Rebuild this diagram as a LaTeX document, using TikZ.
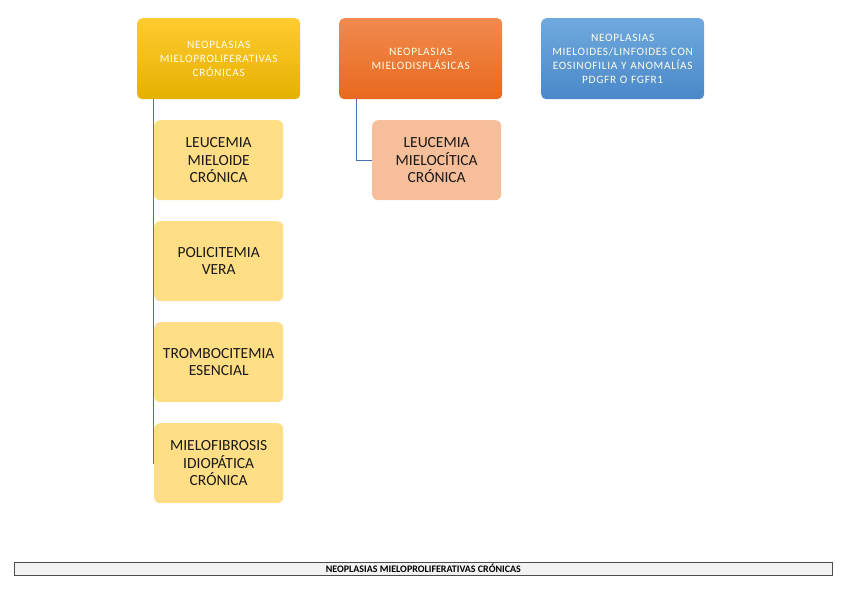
\documentclass[tikz,border=0pt]{standalone}
\usepackage{fontspec}
\setmainfont{Carlito}
\usetikzlibrary{backgrounds,calc}
\definecolor{ytop}{HTML}{FFCB30}
\definecolor{ybot}{HTML}{E5B100}
\definecolor{otop}{HTML}{F18A4E}
\definecolor{obot}{HTML}{E8691E}
\definecolor{btop}{HTML}{6FA9DD}
\definecolor{bbot}{HTML}{4A88C9}
\definecolor{ylight}{HTML}{FFDE85}
\definecolor{olight}{HTML}{F7BE9A}
\definecolor{linkblue}{HTML}{4A6FB5}
\tikzset{
  topbox/.style={rounded corners=5pt, minimum width=163pt, minimum height=81pt, text width=161pt, align=center, text=white!92!yellow, font=\fontsize{11.3}{14}\selectfont\addfontfeatures{LetterSpace=6}, anchor=north west, inner sep=0pt},
  childbox/.style={rounded corners=6pt, minimum width=129pt, minimum height=80pt, text width=127pt, align=center, text=black!90, font=\fontsize{15.5}{17.5}\selectfont, anchor=north west, inner sep=0pt},
  link/.style={draw=linkblue, line width=0.9pt},
}
\begin{document}
\begin{tikzpicture}[x=1pt,y=-1pt]
\useasboundingbox (0,0) rectangle (848,599);
\node[topbox, top color=ytop, bottom color=ybot] (t1) at (137,18) {NEOPLASIAS\\MIELOPROLIFERATIVAS\\CRÓNICAS};
\node[topbox, top color=otop, bottom color=obot] (t2) at (339,18) {NEOPLASIAS\\MIELODISPLÁSICAS};
\node[topbox, top color=btop, bottom color=bbot] (t3) at (541,18) {NEOPLASIAS\\MIELOIDES/LINFOIDES CON\\EOSINOFILIA Y ANOMALÍAS\\PDGFR O FGFR1};
\node[childbox, fill=ylight] (c1) at (154,120) {LEUCEMIA\\MIELOIDE\\CRÓNICA};
\node[childbox, fill=ylight] (c2) at (154,221) {POLICITEMIA\\VERA};
\node[childbox, fill=ylight] (c3) at (154,322) {TROMBOCITEMIA\\ESENCIAL};
\node[childbox, fill=ylight] (c4) at (154,423) {MIELOFIBROSIS\\IDIOPÁTICA\\CRÓNICA};
\node[childbox, fill=olight] (m1) at (372,120) {LEUCEMIA\\MIELOCÍTICA\\CRÓNICA};
\coordinate (s1) at ($(t1.south west)+(16,0)$);
\coordinate (s2) at ($(t2.south west)+(17,0)$);
\begin{scope}[on background layer]
\draw[link] (s1) |- (c1.west);
\draw[link] (s1) |- (c2.west);
\draw[link] (s1) |- (c3.west);
\draw[link] (s1) |- (c4.west);
\draw[link] (s2) |- (m1.west);
\end{scope}
\node[draw=black!70, fill=black!5, line width=0.6pt, minimum width=818pt, minimum height=13pt, inner sep=0pt, anchor=north west, font=\fontsize{10}{11}\selectfont\bfseries] (bar) at (14,562) {NEOPLASIAS MIELOPROLIFERATIVAS CRÓNICAS};
\end{tikzpicture}
\end{document}
